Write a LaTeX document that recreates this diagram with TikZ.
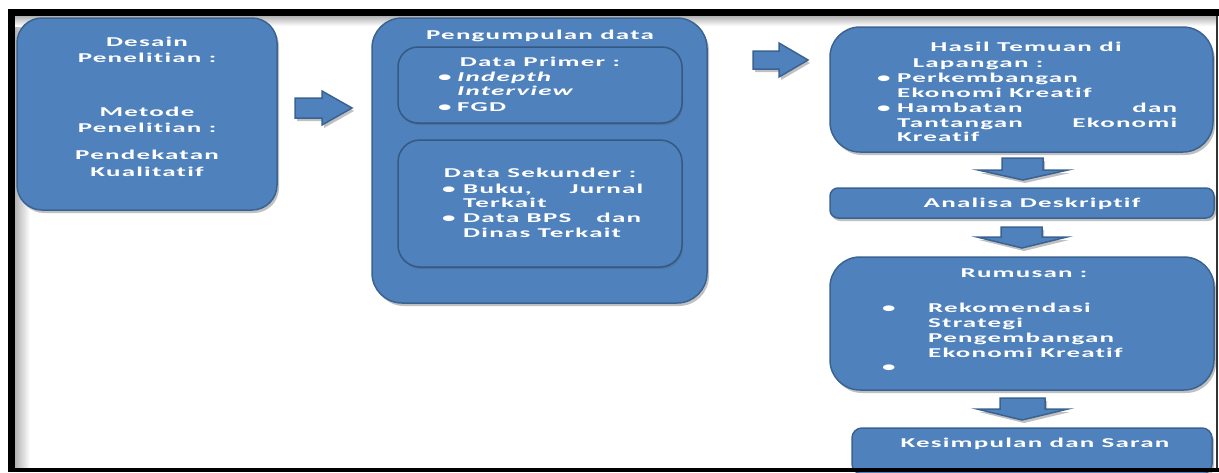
\documentclass[tikz,border=0pt]{standalone}
\usepackage{fontspec}
\newfontfamily\bx[FakeStretch=2.0,LetterSpace=9,Ligatures=NoCommon]{Carlito}
\usetikzlibrary{shadows}
\definecolor{boxfill}{HTML}{4F81BD}
\definecolor{boxline}{HTML}{3A6391}
\tikzset{
  blk/.style={fill=boxfill,draw=boxline,line width=1.5pt,
    drop shadow={shadow xshift=2pt,shadow yshift=-3pt,opacity=0.35,fill=black!70}},
  inbox/.style={fill=boxfill,draw=boxline!90!black,line width=1.5pt,
    drop shadow={shadow xshift=1pt,shadow yshift=-2pt,opacity=0.25,fill=black!70}},
  boxnode/.style={blk,inner sep=0pt},
  txt/.style={text=white,font=\bx\bfseries\fontsize{13.5}{15}\selectfont,inner sep=0pt},
  ltxt/.style={txt,anchor=base west},
  ctxt/.style={txt,anchor=base},
}
\begin{document}
\begin{tikzpicture}[x=1pt,y=-1pt]
\useasboundingbox (0,0) rectangle (1219,472);
\fill[white] (0,0) rectangle (1219,472);
% inner shading of the frame
\shade[left color=black!30,right color=white] (15,16) rectangle (30,468);
\shade[top color=black!30,bottom color=white] (15,16) rectangle (1216,26);

% boxes
\node[boxnode,rounded corners=25pt,minimum width=260pt,minimum height=192pt] (b1) at (147,114) {};
\node[boxnode,rounded corners=30pt,minimum width=335pt,minimum height=285pt] (b2) at (539.5,160.5) {};
\node[inbox,rounded corners=20pt,minimum width=284pt,minimum height=76pt,inner sep=0pt] (b2a) at (540,85) {};
\node[inbox,rounded corners=22pt,minimum width=284pt,minimum height=127pt,inner sep=0pt] (b2b) at (540,203.5) {};
\node[boxnode,rounded corners=30pt,minimum width=383pt,minimum height=125pt] (b3) at (1021.5,89.5) {};
\node[boxnode,rounded corners=8pt,minimum width=384pt,minimum height=30pt] (b4) at (1022,203) {};
\node[boxnode,rounded corners=30pt,minimum width=384pt,minimum height=133pt] (b5) at (1022,323.5) {};
\node[boxnode,rounded corners=10pt,minimum width=360pt,minimum height=46pt] (b6) at (1032,451) {};

% block arrows
\draw[blk] (295,98) -- (322,98) -- (322,91) -- (352,108) -- (322,125) -- (322,118) -- (295,118) -- cycle;
\draw[blk] (753,51) -- (779,51) -- (779,43) -- (808,60) -- (779,77) -- (779,69) -- (753,69) -- cycle;
\draw[blk] (1002,158) -- (1043,158) -- (1043,170) -- (1068,170) -- (1023,180) -- (978,170) -- (1002,170) -- cycle;
\draw[blk] (1001,227) -- (1042,227) -- (1042,237) -- (1067,237) -- (1022,248) -- (977,237) -- (1001,237) -- cycle;
\draw[blk] (1000,398) -- (1045,398) -- (1045,409) -- (1068,409) -- (1022,420) -- (977,409) -- (1000,409) -- cycle;

% texts box 1
\node[ctxt] (t11) at (147,46) {Desain};
\node[ctxt] (t12) at (147,62) {Penelitian :};
\node[ctxt] (t13) at (147,116) {Metode};
\node[ctxt] (t14) at (147,132) {Penelitian :};
\node[ctxt] (t15) at (147,159) {Pendekatan};
\node[ctxt] (t16) at (147,176) {Kualitatif};

% texts box 2
\node[ctxt] (t21) at (540,39) {Pengumpulan data};
\node[ctxt] (t22) at (540,66) {Data Primer :};
\node[ltxt] (p1) at (438,81) {\textbullet};
\node[ltxt] (t23) at (457,81) {\itshape Indepth};
\node[ltxt] (t24) at (457,95) {\itshape Interview};
\node[ltxt] (p2) at (438,111) {\textbullet};
\node[ltxt] (t25) at (457,111) {FGD};
\node[ctxt] (t26) at (540,177) {Data Sekunder :};
\node[ltxt] (p3) at (442,193) {\textbullet};
\node[ltxt] (t27) at (463,193) {\makebox[180pt][l]{Buku,\hfill Jurnal}};
\node[ltxt] (t28) at (463,207) {Terkait};
\node[ltxt] (p4) at (442,222) {\textbullet};
\node[ltxt] (t29) at (463,222) {\makebox[178pt][l]{Data BPS\hfill dan}};
\node[ltxt] (t2a) at (463,237) {Dinas Terkait};

% texts box 3
\node[ctxt] (t31) at (1026,51) {Hasil Temuan di};
\node[ctxt] (t32) at (978,67) {Lapangan :};
\node[ltxt] (p5) at (877,82) {\textbullet};
\node[ltxt] (t33) at (897,82) {Perkembangan};
\node[ltxt] (t34) at (897,97) {Ekonomi Kreatif};
\node[ltxt] (p6) at (877,112) {\textbullet};
\node[ltxt] (t35) at (897,112) {\makebox[280pt][l]{Hambatan\hfill dan}};
\node[ltxt] (t36) at (897,127) {\makebox[280pt][l]{Tantangan\hfill Ekonomi}};
\node[ltxt] (t37) at (897,141) {Kreatif};

% box 4
\node[ctxt] (t41) at (1032,207) {Analisa Deskriptif};

% box 5
\node[ctxt] (t51) at (1024,277) {Rumusan :};
\node[ltxt] (p7) at (882,312) {\textbullet};
\node[ltxt] (t52) at (928,312) {Rekomendasi};
\node[ltxt] (t53) at (928,327) {Strategi};
\node[ltxt] (t54) at (928,342) {Pengembangan};
\node[ltxt] (t55) at (928,357) {Ekonomi Kreatif};
\node[ltxt] (p8) at (882,371) {\textbullet};

% box 6
\node[ctxt] (t61) at (1035,447) {Kesimpulan dan Saran};

% frame
\fill[black] (8,9) rectangle (1219,16);
\fill[black] (8,9) rectangle (15,472);
\fill[black] (8,468) rectangle (1219,472);
\fill[black!80] (1215.5,16) rectangle (1217.5,468);
\fill[white] (1217.5,16) rectangle (1219,468);
\end{tikzpicture}
\end{document}
